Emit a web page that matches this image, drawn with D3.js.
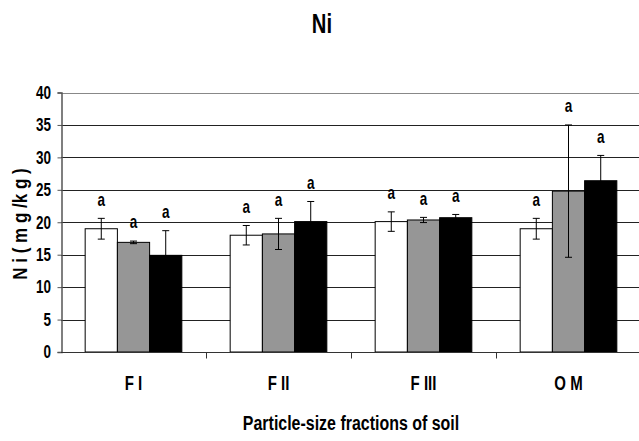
<!DOCTYPE html>
<html>
<head>
<meta charset="utf-8">
<script src="https://cdn.jsdelivr.net/npm/d3@7"></script>
<style>
  body { margin: 0; background: #fff; }
  text { font-family: "Liberation Sans", Arial, sans-serif; font-weight: bold; fill: #000; }
</style>
</head>
<body>
<div id="chart"></div>
<script>
// categories and series (three treatments, no legend in the original)
var categories = ["F I", "F II", "F III", "O M"];
var series = ["s1", "s2", "s3"];
var means = [
  [19.0, 16.9, 14.9],
  [18.0, 18.2, 20.1],
  [20.1, 20.35, 20.7],
  [19.0, 24.8, 26.4]
];
var errs = [
  [1.6, 0.2, 3.8],
  [1.5, 2.4, 3.1],
  [1.5, 0.4, 0.5],
  [1.6, 10.2, 3.9]
];
var letters = [
  ["a", "a", "a"],
  ["a", "a", "a"],
  ["a", "a", "a"],
  ["a", "a", "a"]
];
var yTicks = [0, 5, 10, 15, 20, 25, 30, 35, 40];

var W = 639, H = 441;
var plotLeft = 61, plotTop = 92.5, plotBottom = 352;
var fills = ["#ffffff", "#969696", "#000000"];
var NARROW = 0.75; // squeeze Liberation Sans to look like Arial Narrow

var svg = d3.select("#chart")
  .append("svg")
  .attr("width", W)
  .attr("height", H);

var x = d3.scaleBand()
  .domain(categories)
  .range([plotLeft, plotLeft + 145 * categories.length])
  .padding(0);

var xs = d3.scaleBand()
  .domain(series)
  .range([0, x.bandwidth()])
  .paddingInner(0)
  .paddingOuter(0.75);

var y = d3.scaleLinear()
  .domain([0, 40])
  .range([plotBottom, plotTop]);

// narrow text placed at (px, py), optionally rotated
function narrowText(px, py, rot, size, str, sx) {
  return svg.append("text")
    .attr("transform", "translate(" + px + "," + py + ") rotate(" + rot + ") scale(" + (sx || NARROW) + ",1)")
    .attr("text-anchor", "middle")
    .attr("font-size", size)
    .text(str);
}

// gridlines
svg.selectAll("line.grid")
  .data(yTicks.filter(function(d) { return d > 0; }))
  .enter()
  .append("line")
  .attr("class", "grid")
  .attr("x1", plotLeft)
  .attr("x2", W)
  .attr("y1", function(d) { return Math.round(y(d)) + 0.5; })
  .attr("y2", function(d) { return Math.round(y(d)) + 0.5; })
  .attr("stroke", function(d) { return d == 40 ? "#888" : "#222"; })
  .attr("stroke-width", 1);

// bars
var rows = [];
categories.forEach(function(c, i) {
  series.forEach(function(s, j) {
    rows.push({ cat: c, ser: s, j: j, v: means[i][j], e: errs[i][j], lab: letters[i][j] });
  });
});

svg.selectAll("rect.bar")
  .data(rows)
  .enter()
  .append("rect")
  .attr("class", "bar")
  .attr("x", function(d) { return x(d.cat) + xs(d.ser); })
  .attr("y", function(d) { return y(d.v); })
  .attr("width", xs.bandwidth())
  .attr("height", function(d) { return y(0) - y(d.v); })
  .attr("fill", function(d) { return fills[d.j]; })
  .attr("stroke", "#000")
  .attr("stroke-width", 1);

// error bars
var eb = svg.selectAll("g.err")
  .data(rows)
  .enter()
  .append("g")
  .attr("class", "err")
  .attr("stroke", "#000")
  .attr("stroke-width", 1);

function cx(d) { return x(d.cat) + xs(d.ser) + xs.bandwidth() / 2; }

eb.append("line")
  .attr("x1", cx)
  .attr("x2", cx)
  .attr("y1", function(d) { return y(d.v + d.e); })
  .attr("y2", function(d) { return y(d.v - d.e); });

[1, -1].forEach(function(sign) {
  eb.append("line")
    .attr("x1", function(d) { return cx(d) - 3.5; })
    .attr("x2", function(d) { return cx(d) + 3.5; })
    .attr("y1", function(d) { return y(d.v + sign * d.e); })
    .attr("y2", function(d) { return y(d.v + sign * d.e); });
});

// significance letters
rows.forEach(function(d) {
  narrowText(cx(d), y(d.v + d.e + 2.7) + 4.7, 0, 18, d.lab);
});

// y axis
var yAxis = d3.axisLeft(y).tickValues(yTicks).tickSize(4).tickPadding(3);
var gy = svg.append("g")
  .attr("transform", "translate(" + (plotLeft + 0.5) + ",0)")
  .call(yAxis);
gy.select(".domain").attr("stroke", "#555").attr("stroke-width", 1.5);
gy.selectAll(".tick line").attr("stroke", "#555");
gy.selectAll(".tick text")
  .attr("font-size", 18)
  .attr("font-family", null)
  .attr("x", -10.5 / NARROW)
  .attr("transform", "scale(" + NARROW + ",1)");

// x axis
var gx = svg.append("g")
  .attr("transform", "translate(0," + (plotBottom + 0.5) + ")");
gx.append("line")
  .attr("x1", plotLeft).attr("x2", W)
  .attr("stroke", "#333");
gx.selectAll("line.tk")
  .data(categories.slice(1))
  .enter()
  .append("line")
  .attr("class", "tk")
  .attr("x1", function(d) { return Math.round(x(d)) + 0.5; })
  .attr("x2", function(d) { return Math.round(x(d)) + 0.5; })
  .attr("y1", 0).attr("y2", 6)
  .attr("stroke", "#333");
categories.forEach(function(c) {
  narrowText(x(c) + x.bandwidth() / 2, 390, 0, 20, c);
});

// titles
narrowText(322, 33, 0, 27, "Ni");
narrowText(27, 224, -90, 20, "N i ( m g /k g )", 0.85);
narrowText(351, 430, 0, 21, "Particle-size fractions of soil", 0.76);
</script>
</body>
</html>
